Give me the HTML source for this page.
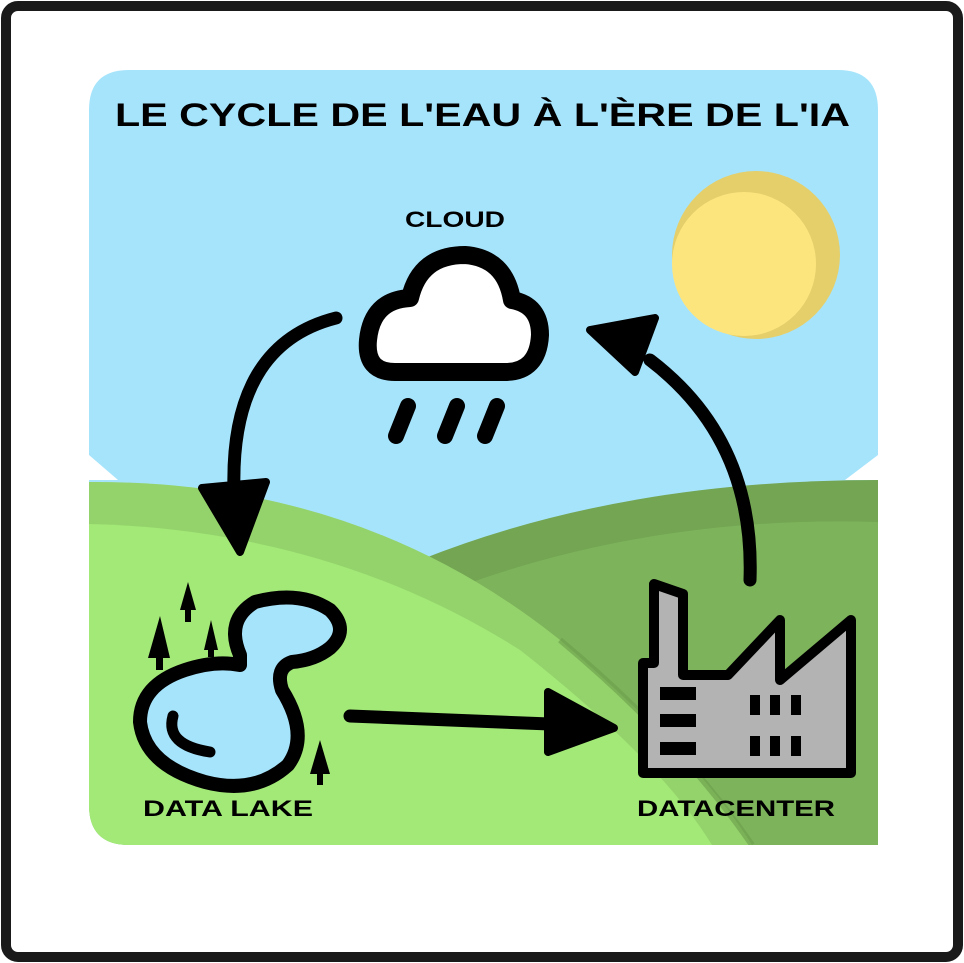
<!DOCTYPE html>
<html><head><style>
html,body{margin:0;padding:0;background:#fff;}
svg{display:block;}
text{font-family:"Liberation Sans","DejaVu Sans",sans-serif;font-weight:bold;fill:#000;}
</style></head><body>
<svg width="964" height="963" viewBox="0 0 964 963" xmlns="http://www.w3.org/2000/svg">
<rect x="6" y="6" width="952" height="951" rx="12" fill="#fff" stroke="#1a1a1a" stroke-width="10"/>
<defs>
<clipPath id="panel"><path d="M129,70 H838 Q878,70 878,110 V845 H129 Q89,845 89,805 V110 Q89,70 129,70 Z"/></clipPath>
</defs>
<g clip-path="url(#panel)">
<rect x="89" y="70" width="789" height="775" fill="#a6e4fc"/>
<path d="M89,455 L118,480 L89,480 Z" fill="#fff"/>
<path d="M878,455 L845,480 L878,480 Z" fill="#fff"/>
<path d="M420,560 Q620,480 878,480 V845 H420 Z" fill="#73a553"/>
<path d="M450,590 Q650,515 878,522 V845 H450 Z" fill="#7db35a"/>
<path d="M89,482 Q360,480 560,640 Q700,760 752,845 H89 Z" fill="#94d36b"/>
<path d="M89,524 Q330,530 520,650 Q660,760 712,845 H89 Z" fill="#a3e977"/>
<path d="M560,640 Q680,740 752,845" fill="none" stroke="#6a9d4b" stroke-width="6" opacity="0.6"/>
</g>
<circle cx="756" cy="255" r="84" fill="#e4cf6b"/>
<circle cx="744" cy="264" r="72" fill="#fde57e"/>
<text x="115" y="126" font-size="32" textLength="735" lengthAdjust="spacingAndGlyphs">LE CYCLE DE L'EAU À L'ÈRE DE L'IA</text>
<text x="405" y="227" font-size="22" textLength="100" lengthAdjust="spacingAndGlyphs">CLOUD</text>
<text x="143" y="816" font-size="22" textLength="170" lengthAdjust="spacingAndGlyphs">DATA LAKE</text>
<text x="637" y="816" font-size="22" textLength="198" lengthAdjust="spacingAndGlyphs">DATACENTER</text>
<path d="M395,372 Q365,372 368,340 Q372,300 410,298 Q420,255 465,255 Q505,258 512,300 Q540,305 540,335 Q538,372 505,372 Z" fill="#fff" stroke="#000" stroke-width="18" stroke-linejoin="round"/>
<g stroke="#000" stroke-width="16" stroke-linecap="round">
<line x1="408" y1="406" x2="396" y2="436"/>
<line x1="457" y1="406" x2="445" y2="436"/>
<line x1="497" y1="406" x2="485" y2="436"/>
</g>
<g fill="none" stroke="#000" stroke-width="13" stroke-linecap="round">
<path d="M336,318 Q230,345 234,490"/>
<path d="M750,580 Q755,440 650,360"/>
<path d="M350,716 L550,724"/>
</g>
<path d="M202,488 L266,482 L240,552 Z" fill="#000" stroke="#000" stroke-width="8" stroke-linejoin="round"/>
<path d="M590,330 L655,318 L635,372 Z" fill="#000" stroke="#000" stroke-width="8" stroke-linejoin="round"/>
<path d="M548,692 L614,728 L548,752 Z" fill="#000" stroke="#000" stroke-width="8" stroke-linejoin="round"/>
<path d="M240,655 Q225,620 255,602 Q300,590 330,610 Q350,630 330,648 Q315,660 292,662 Q275,668 282,690 Q310,735 288,765 Q255,795 205,782 Q145,765 140,722 Q140,685 185,670 Q215,660 240,665 Z" fill="#a6e4fc" stroke="#000" stroke-width="14" stroke-linejoin="round"/>
<path d="M173,716 Q165,745 210,752" fill="none" stroke="#000" stroke-width="11" stroke-linecap="round"/>
<g fill="#000">
<path d="M188,582 L180,610 L196,610 Z"/><rect x="185" y="608" width="6" height="14"/>
<path d="M160,616 L148,658 L170,658 Z"/><rect x="156" y="656" width="7" height="14"/>
<path d="M211,620 L204,650 L218,650 Z"/><rect x="208" y="648" width="6" height="9"/>
<path d="M320,740 L310,774 L330,774 Z"/><rect x="317" y="772" width="6" height="13"/>
</g>
<path d="M643,663 V773 H851 V620 L780,680 V620 L728,675 H683 V594 L654,584 V663 Z" fill="#b3b3b3" stroke="#000" stroke-width="10" stroke-linejoin="round"/>
<g fill="#000">
<rect x="660" y="687" width="36" height="13"/><rect x="660" y="714" width="36" height="13"/><rect x="660" y="742" width="36" height="13"/>
<rect x="750" y="695" width="10" height="20"/><rect x="770" y="695" width="10" height="20"/><rect x="791" y="695" width="10" height="20"/>
<rect x="750" y="736" width="10" height="20"/><rect x="770" y="736" width="10" height="20"/><rect x="791" y="736" width="10" height="20"/>
</g>
</svg>
</body></html>
